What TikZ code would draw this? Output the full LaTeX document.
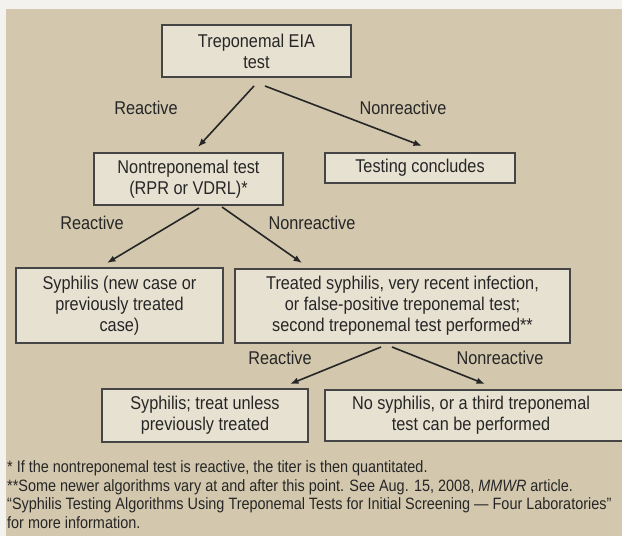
\documentclass[tikz,border=0pt]{standalone}
\usepackage{fontspec}
\setmainfont{Liberation Sans}[FakeStretch=0.88]
\usetikzlibrary{arrows.meta}
\definecolor{bgtan}{HTML}{D3C8AE}
\definecolor{strip}{HTML}{F3F2EE}
\definecolor{boxfill}{HTML}{E7E1D1}
\definecolor{ink}{HTML}{262626}
\definecolor{boxline}{HTML}{454545}
\begin{document}
\begin{tikzpicture}[x=1pt,y=-1pt,
  stepbox/.style={draw=boxline, line width=1.3pt, fill=boxfill, text=ink,
    font=\fontsize{18.5}{21}\selectfont, align=center, inner sep=0pt},
  lbl/.style={text=ink, font=\fontsize{18.5}{21}\selectfont, inner sep=0pt},
  arr/.style={draw=ink, line width=1.6pt, -{Latex[length=8.5pt,width=6.5pt]}},
  fn/.style={text=ink, font=\fontsize{16.4}{18.5}\selectfont, anchor=west, inner sep=0pt}]
\useasboundingbox (0,0) rectangle (622,536);
\fill[strip] (0,0) rectangle (622,536);
\fill[bgtan] (6,9) rectangle (622,536);

\node[stepbox, minimum width=189pt, minimum height=52pt] (b1) at (256.5,51) {Treponemal EIA\\test};
\node[stepbox, minimum width=189pt, minimum height=52pt] (b2) at (188.5,179) {Nontreponemal test\\(RPR or VDRL)*};
\node[stepbox, minimum width=190pt, minimum height=30pt] (b3) at (420,168) {Testing concludes};
\node[stepbox, minimum width=207pt, minimum height=75pt] (b4) at (119.5,305.5) {Syphilis (new case or\\previously treated\\case)};
\node[stepbox, minimum width=335pt, minimum height=74pt] (b5) at (402.5,306) {Treated syphilis, very recent infection,\\or false-positive treponemal test;\\second treponemal test performed**};
\node[stepbox, minimum width=206pt, minimum height=53pt] (b6) at (205,415.5) {Syphilis; treat unless\\previously treated};
\node[stepbox, minimum width=307pt, minimum height=51pt] (b7) at (478.5,415.5) {\hspace*{-15pt}No syphilis, or a third treponemal\\\hspace*{-15pt}test can be performed};

\coordinate (a1s) at (254,86);  \coordinate (a1e) at (198,147);
\coordinate (a2s) at (265,86);  \coordinate (a2e) at (422,146);
\coordinate (a3s) at (199,208); \coordinate (a3e) at (107,263);
\coordinate (a4s) at (222,207); \coordinate (a4e) at (302,263);
\coordinate (a5s) at (381,347); \coordinate (a5e) at (290,384);
\coordinate (a6s) at (392,347); \coordinate (a6e) at (485,384);
\draw[arr] (a1s) -- (a1e);
\draw[arr] (a2s) -- (a2e);
\draw[arr] (a3s) -- (a3e);
\draw[arr] (a4s) -- (a4e);
\draw[arr] (a5s) -- (a5e);
\draw[arr] (a6s) -- (a6e);

\node[lbl] (l1) at (146,108) {Reactive};
\node[lbl] (l2) at (403,108) {Nonreactive};
\node[lbl] (l3) at (92,223) {Reactive};
\node[lbl] (l4) at (312,223) {Nonreactive};
\node[lbl] (l5) at (280,358) {Reactive};
\node[lbl] (l6) at (500,358) {Nonreactive};

\node[fn] (f1) at (7,468) {* If the nontreponemal test is reactive, the titer is then quantitated.};
\node[fn] (f2) at (7,487) {**Some newer algorithms vary at and after this point. See Aug. 15, 2008, \textit{MMWR} article.};
\node[fn] (f3) at (7,505) {“Syphilis Testing Algorithms Using Treponemal Tests for Initial Screening — Four Laboratories”};
\node[fn] (f4) at (7,523) {for more information.};
\end{tikzpicture}
\end{document}
